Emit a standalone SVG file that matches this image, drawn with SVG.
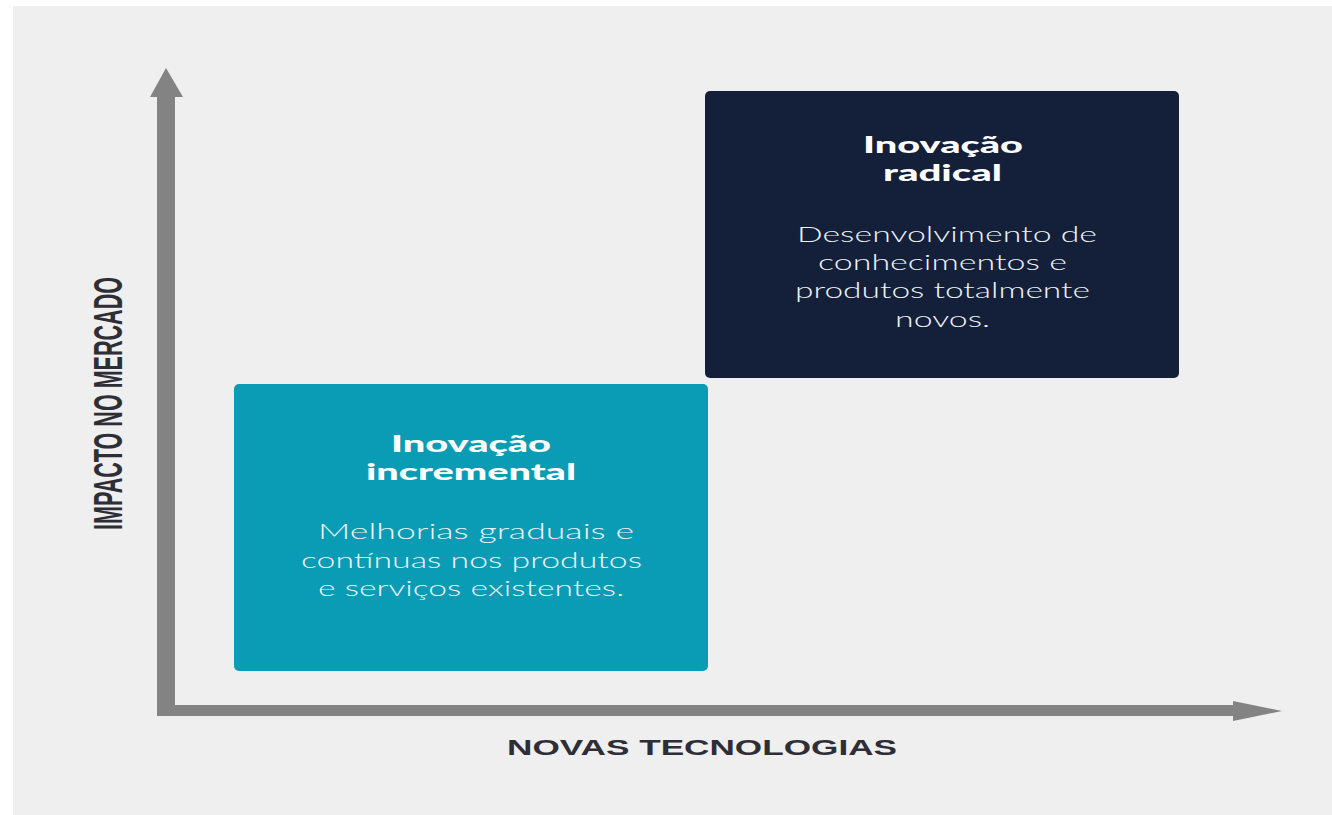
<svg xmlns="http://www.w3.org/2000/svg" width="1332" height="815" viewBox="0 0 1332 815">
<style>
.title{font-family:Lato,"Open Sans","Liberation Sans",sans-serif;font-weight:900;font-size:22px;fill:#ffffff}
.body{font-family:Lato,"Open Sans","Liberation Sans",sans-serif;font-weight:300;font-size:21px;fill:#eef3f6}
.axislabel{font-family:"Liberation Sans",Arial,sans-serif;font-weight:700;fill:#2e2e36}
.axis{fill:#838383}
</style>
<rect x="0" y="0" width="1332" height="815" fill="#ffffff"/>
<rect x="13" y="6" width="1319" height="809" fill="#efefef"/>
<g id="connectors">
<path class="axis" d="M157,97 L150,97 L166,68 L183,97 L175,97 L175,705 L1233,705 L1233,701 L1282,711 L1233,721 L1233,716 L157,716 Z"/>
</g>
<g id="node-incremental">
<rect x="234" y="384" width="474" height="287" rx="5" fill="#0a9cb5"/>
<text class="title" x="391" y="452" textLength="160" lengthAdjust="spacingAndGlyphs">Inovação</text>
<text class="title" x="366" y="480" textLength="210" lengthAdjust="spacingAndGlyphs">incremental</text>
<text class="body" x="318" y="539" textLength="316" lengthAdjust="spacingAndGlyphs">Melhorias graduais e</text>
<text class="body" x="301" y="568" textLength="341" lengthAdjust="spacingAndGlyphs">contínuas nos produtos</text>
<text class="body" x="318" y="596" textLength="306" lengthAdjust="spacingAndGlyphs">e serviços existentes.</text>
</g>
<g id="node-radical">
<rect x="705" y="91" width="474" height="287" rx="5" fill="#14203a"/>
<text class="title" x="863" y="153" textLength="160" lengthAdjust="spacingAndGlyphs">Inovação</text>
<text class="title" x="883" y="181" textLength="119" lengthAdjust="spacingAndGlyphs">radical</text>
<text class="body" x="797" y="242" textLength="300" lengthAdjust="spacingAndGlyphs">Desenvolvimento de</text>
<text class="body" x="818" y="270" textLength="249" lengthAdjust="spacingAndGlyphs">conhecimentos e</text>
<text class="body" x="795" y="298" textLength="295" lengthAdjust="spacingAndGlyphs">produtos totalmente</text>
<text class="body" x="895" y="327" textLength="95" lengthAdjust="spacingAndGlyphs">novos.</text>
</g>
<g id="label-y">
<text class="axislabel" font-size="40" transform="translate(122,530) rotate(-90)" x="0" y="0" textLength="253" lengthAdjust="spacingAndGlyphs">IMPACTO NO MERCADO</text>
</g>
<g id="label-x">
<text class="axislabel" font-size="22" x="507" y="755" textLength="390" lengthAdjust="spacingAndGlyphs">NOVAS TECNOLOGIAS</text>
</g>
</svg>
